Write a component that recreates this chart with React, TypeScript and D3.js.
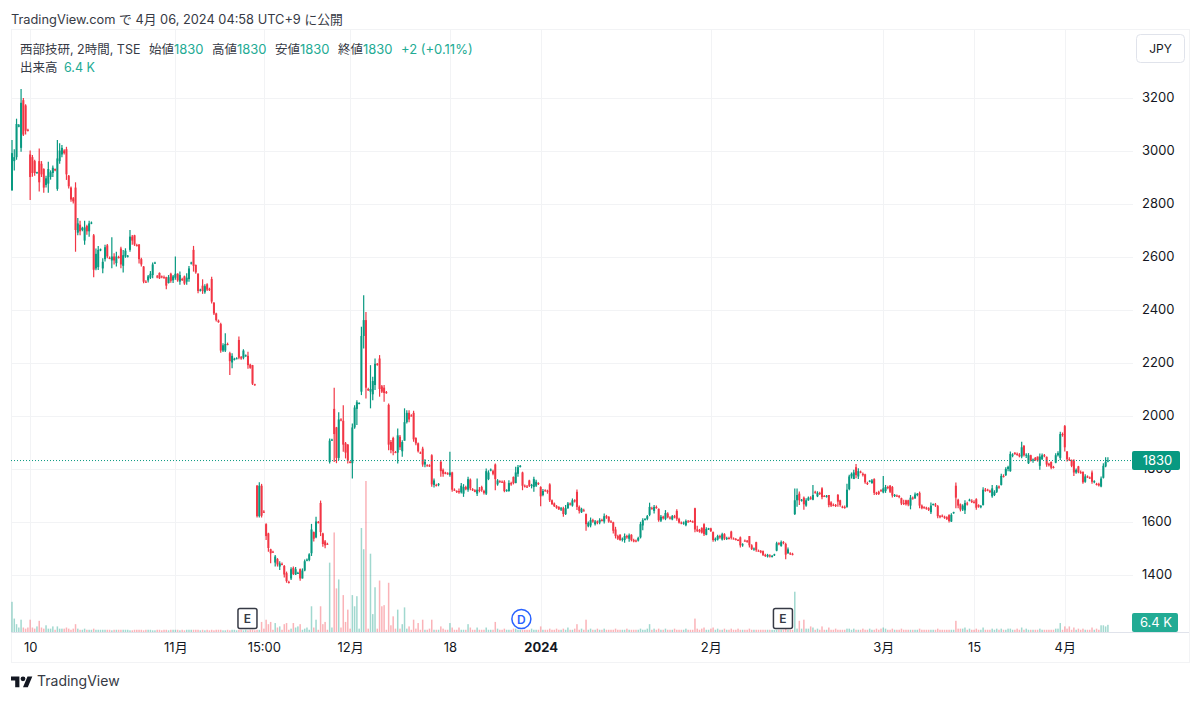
import { useEffect, useRef } from "react";
import * as d3 from "d3";

type Bar = [number, number, number, number]; // open, high, low, close

const octBars: Bar[] = [
  [2850,3040,2848,2990],[2960,3005,2925,2975],[2975,3120,2965,3100],[3090,3100,3088,3095],[3010,3232,2995,3180],
  [3190,3198,3055,3060],[3170,3175,3060,3075],[3078,3082,3072,3076],[2985,3000,2813,2900],[2975,2983,2901,2915],
  [2960,2965,2905,2915],[2916,2920,2912,2918],[2960,3008,2845,2880],[2950,2960,2900,2910],[2930,2933,2841,2860],
  [2870,2905,2860,2895],[2875,2958,2841,2930],[2900,2925,2890,2918],[2915,2943,2900,2935],[2930,2932,2922,2925],
  [2855,3040,2848,2970],[2960,3027,2950,3000],[2985,3021,2975,3010],[3000,3005,2985,2990],[3005,3014,2889,2910],
  [2905,2908,2857,2865],[2860,2864,2807,2815],[2820,2825,2800,2808],[2860,2880,2618,2700],[2690,2745,2680,2725],
  [2720,2735,2680,2695],[2700,2712,2695,2708],[2660,2735,2644,2710],[2715,2720,2682,2695],[2695,2735,2675,2725],
  [2725,2732,2722,2728],[2680,2685,2522,2550],[2555,2630,2548,2610],[2560,2640,2549,2625],[2625,2630,2620,2627],
  [2555,2593,2537,2580],[2590,2644,2581,2635],[2642,2647,2593,2600],[2595,2600,2590,2592],[2585,2673,2556,2600],
  [2600,2612,2570,2585],[2575,2618,2562,2600],[2598,2603,2592,2595],[2630,2637,2556,2570],[2565,2625,2540,2605],
  [2600,2631,2595,2622],[2600,2606,2596,2603],[2625,2700,2618,2675],[2675,2681,2644,2660],[2680,2682,2640,2645],
  [2643,2648,2638,2640],[2645,2647,2574,2590],[2590,2595,2562,2570],[2562,2564,2499,2505],[2505,2510,2500,2503],
  [2510,2530,2502,2525],[2520,2545,2515,2535],[2530,2577,2518,2570],[2575,2580,2572,2577],[2525,2530,2518,2522],
  [2538,2540,2515,2518],[2525,2528,2518,2522],[2522,2528,2516,2520],[2522,2524,2476,2490],[2500,2530,2498,2522],
  [2535,2539,2501,2508],[2510,2530,2500,2525],
];

const novBars: Bar[] = [
  [2520,2600,2512,2535],[2535,2537,2505,2510],[2505,2543,2493,2530],[2515,2520,2508,2512],[2525,2528,2493,2498],
  [2505,2537,2493,2520],[2515,2564,2505,2555],[2575,2580,2570,2577],[2625,2640,2543,2565],[2568,2570,2535,2540],
  [2535,2537,2461,2470],[2472,2478,2468,2475],[2490,2514,2459,2470],[2465,2495,2459,2488],[2495,2499,2470,2475],
  [2478,2482,2470,2476],[2515,2524,2423,2430],[2425,2428,2379,2385],[2385,2388,2355,2360],[2358,2362,2350,2352],
  [2345,2350,2237,2245],[2245,2273,2240,2265],[2245,2310,2240,2270],[2270,2275,2265,2268],[2235,2241,2153,2205],
  [2200,2235,2178,2225],[2212,2218,2208,2214],[2215,2220,2212,2216],[2285,2298,2212,2218],[2220,2225,2210,2215],
  [2218,2250,2212,2245],[2225,2230,2222,2227],[2225,2241,2176,2190],[2192,2195,2176,2180],[2190,2191,2115,2120],
  [2118,2120,2112,2114],[1735,1738,1615,1620],[1620,1748,1615,1735],[1735,1742,1615,1622],[1637,1642,1632,1635],
  [1590,1593,1530,1545],[1555,1558,1486,1500],[1495,1497,1442,1480],[1486,1490,1482,1484],[1445,1474,1430,1468],
  [1458,1462,1430,1438],[1430,1450,1417,1442],[1440,1445,1435,1438],[1432,1436,1389,1400],[1405,1411,1369,1375],
  [1372,1376,1366,1370],[1385,1427,1379,1420],[1425,1430,1398,1402],[1400,1428,1398,1420],[1405,1410,1402,1406],
  [1420,1423,1376,1385],[1385,1423,1385,1415],[1415,1457,1412,1450],[1455,1460,1450,1456],[1455,1480,1450,1476],
  [1480,1591,1470,1570],[1560,1562,1525,1535],[1540,1618,1537,1600],[1598,1602,1592,1596],[1670,1679,1545,1560],
  [1555,1558,1505,1515],[1525,1530,1499,1510],[1516,1520,1512,1514],[1825,1913,1819,1905],[1908,1912,1904,1909],
  [2025,2105,1825,1930],[1955,1957,1820,1840],[1840,2012,1832,1985],[1985,1990,1978,1983],[1980,2039,1863,1890],
  [1895,1900,1838,1860],[1890,1892,1819,1830],[1825,1828,1820,1823],
];

const decBars: Bar[] = [
  [1820,1970,1762,1955],[1955,2039,1950,2030],[2025,2058,1964,2050],[2045,2050,2042,2047],[2090,2335,2077,2300],
  [2300,2454,2253,2360],[2360,2391,2064,2105],[2100,2105,2092,2095],[2090,2190,2027,2100],[2080,2146,2058,2130],
  [2115,2215,2096,2195],[2195,2198,2188,2192],[2215,2228,2071,2100],[2110,2115,2085,2090],[2105,2115,2052,2085],
  [2088,2092,2082,2086],[2040,2045,1869,1890],[1900,1908,1858,1870],[1915,1920,1850,1865],[1862,1866,1858,1860],
  [1860,1951,1819,1925],[1920,1926,1870,1880],[1865,1907,1844,1900],[1905,2027,1905,1975],[1975,2020,1970,2010],
  [2010,2020,1975,1985],[2000,2005,1996,1998],[2010,2018,1901,1910],[1915,1918,1888,1895],[1895,1898,1860,1865],
  [1860,1864,1855,1858],[1875,1882,1807,1815],[1815,1835,1805,1825],[1812,1816,1808,1810],[1812,1816,1806,1810],
  [1850,1854,1731,1740],[1738,1762,1728,1755],[1738,1742,1732,1735],[1740,1745,1733,1742],[1825,1832,1769,1790],
  [1795,1800,1769,1780],[1785,1788,1778,1780],[1782,1786,1776,1780],[1775,1863,1769,1785],[1785,1788,1712,1720],
  [1720,1725,1715,1718],[1715,1718,1708,1712],[1715,1725,1705,1710],[1710,1745,1706,1735],[1705,1741,1693,1730],
  [1730,1735,1718,1722],[1720,1769,1712,1760],[1758,1762,1718,1725],[1722,1726,1715,1718],[1718,1722,1710,1712],
  [1705,1762,1696,1720],[1720,1730,1710,1715],[1730,1735,1712,1718],[1715,1720,1702,1708],[1705,1800,1700,1790],
  [1760,1793,1756,1785],[1795,1800,1790,1796],[1790,1795,1775,1780],[1815,1819,1718,1760],[1740,1760,1735,1755],
  [1752,1756,1746,1750],[1750,1755,1745,1748],[1750,1756,1710,1715],[1715,1722,1712,1718],[1715,1756,1712,1745],
  [1745,1750,1735,1740],[1768,1770,1740,1745],[1745,1807,1744,1785],[1780,1813,1769,1805],[1808,1813,1804,1810],
  [1785,1788,1718,1735],[1735,1740,1728,1732],[1732,1738,1726,1730],[1755,1758,1730,1735],[1735,1742,1725,1738],
  [1730,1769,1712,1760],[1735,1758,1730,1750],[1745,1748,1738,1741],[1730,1733,1658,1695],
];

const janBars: Bar[] = [
  [1700,1723,1695,1715],[1718,1722,1712,1716],[1716,1720,1705,1712],[1740,1744,1674,1680],[1680,1683,1662,1666],
  [1668,1672,1655,1658],[1658,1662,1648,1652],[1655,1658,1643,1646],[1645,1655,1640,1650],[1650,1656,1618,1628],
  [1628,1662,1625,1650],[1650,1674,1648,1668],[1668,1672,1660,1664],[1660,1687,1656,1680],[1680,1684,1672,1676],
  [1712,1721,1643,1655],[1655,1660,1630,1640],[1635,1652,1632,1648],[1642,1648,1638,1640],[1628,1630,1565,1590],
  [1582,1600,1578,1595],[1585,1615,1578,1605],[1605,1610,1595,1600],[1590,1606,1585,1600],[1600,1604,1590,1595],
  [1596,1612,1590,1606],[1606,1610,1600,1604],[1600,1630,1592,1620],[1620,1625,1610,1615],[1618,1620,1595,1600],
  [1600,1605,1595,1598],[1597,1599,1555,1565],[1570,1580,1536,1545],[1545,1550,1530,1535],[1550,1552,1527,1530],
  [1532,1540,1525,1535],[1530,1555,1520,1545],[1545,1550,1535,1540],[1535,1555,1524,1548],[1550,1552,1525,1530],
  [1530,1535,1522,1525],[1528,1532,1522,1526],[1528,1542,1525,1538],[1540,1599,1536,1590],[1585,1612,1567,1605],
  [1608,1612,1604,1610],[1610,1625,1605,1620],[1625,1671,1620,1655],[1650,1656,1645,1648],[1640,1662,1630,1655],
  [1655,1660,1648,1652],[1648,1649,1599,1605],[1603,1625,1598,1618],[1618,1622,1608,1612],[1610,1643,1605,1632],
  [1630,1635,1612,1616],[1615,1620,1608,1612],[1608,1625,1605,1620],[1620,1625,1612,1615],[1640,1646,1603,1610],
  [1610,1614,1592,1596],[1596,1600,1590,1594],[1594,1600,1588,1596],[1586,1608,1582,1602],[1600,1606,1596,1598],
  [1602,1606,1598,1600],[1600,1604,1595,1598],[1650,1652,1559,1570],[1570,1584,1560,1565],[1568,1572,1558,1562],
  [1575,1578,1555,1558],[1590,1593,1545,1552],[1550,1578,1548,1572],[1572,1576,1568,1574],[1574,1576,1560,1564],
];

const febBars: Bar[] = [
  [1560,1562,1524,1530],[1530,1540,1525,1535],[1532,1550,1528,1545],[1545,1550,1535,1540],[1532,1558,1528,1552],
  [1552,1556,1530,1536],[1536,1542,1530,1538],[1538,1542,1532,1534],[1562,1565,1532,1538],[1536,1540,1532,1534],
  [1534,1538,1528,1532],[1530,1534,1526,1528],[1540,1543,1502,1510],[1510,1518,1505,1514],[1528,1532,1524,1527],
  [1527,1530,1520,1524],[1545,1545,1502,1510],[1510,1514,1492,1496],[1496,1502,1490,1498],[1522,1524,1486,1492],
  [1490,1494,1486,1488],[1488,1492,1480,1484],[1488,1491,1470,1474],[1474,1478,1466,1470],[1468,1478,1464,1474],
  [1472,1476,1464,1468],[1468,1474,1464,1470],[1474,1478,1470,1476],[1490,1524,1488,1518],[1518,1522,1510,1514],
  [1508,1528,1505,1522],[1522,1526,1514,1518],[1515,1520,1458,1475],[1480,1502,1478,1495],[1480,1484,1474,1478],
  [1478,1482,1472,1476],[1628,1725,1625,1680],[1680,1725,1656,1700],[1705,1713,1662,1680],[1680,1685,1675,1682],
  [1690,1694,1644,1665],[1660,1688,1656,1680],[1680,1694,1678,1690],[1690,1695,1682,1686],[1682,1738,1680,1700],
  [1712,1716,1705,1710],[1695,1714,1692,1708],[1708,1712,1700,1704],[1725,1729,1684,1692],[1696,1700,1692,1695],
  [1695,1700,1690,1697],[1700,1700,1654,1662],[1672,1676,1655,1660],[1663,1668,1658,1662],[1662,1666,1655,1660],
  [1700,1704,1656,1675],[1680,1682,1656,1662],[1656,1660,1650,1654],[1655,1660,1648,1652],[1655,1742,1652,1720],
  [1722,1776,1718,1770],[1770,1785,1762,1780],[1760,1795,1760,1785],[1805,1817,1763,1775],[1770,1801,1760,1790],
  [1788,1792,1782,1785],[1780,1785,1770,1775],[1778,1780,1742,1748],[1745,1750,1738,1742],[1752,1756,1748,1754],
  [1745,1760,1742,1755],[1760,1763,1700,1708],[1708,1712,1700,1704],[1712,1716,1700,1704],[1718,1722,1712,1716],
  [1710,1772,1707,1725],
];

const marBars: Bar[] = [
  [1715,1738,1708,1730],[1730,1735,1722,1726],[1735,1738,1708,1712],[1730,1734,1691,1698],[1698,1704,1692,1700],
  [1698,1702,1692,1696],[1696,1700,1688,1692],[1688,1690,1662,1668],[1670,1682,1662,1666],[1680,1682,1660,1665],
  [1680,1682,1658,1664],[1660,1700,1646,1690],[1690,1694,1682,1688],[1688,1709,1685,1702],[1700,1708,1695,1704],
  [1708,1713,1650,1660],[1660,1664,1646,1650],[1654,1658,1648,1652],[1652,1656,1644,1650],[1650,1654,1640,1644],
  [1635,1672,1628,1660],[1664,1668,1660,1666],[1664,1670,1655,1660],[1658,1662,1612,1620],[1620,1625,1612,1618],
  [1622,1626,1616,1620],[1618,1622,1610,1614],[1616,1620,1606,1610],[1624,1627,1596,1602],[1600,1631,1598,1625],
  [1633,1637,1629,1635],[1735,1747,1650,1690],[1682,1686,1650,1660],[1665,1668,1638,1645],[1645,1665,1640,1660],
  [1642,1680,1628,1670],[1668,1675,1660,1665],[1680,1686,1676,1682],[1678,1684,1670,1674],[1674,1680,1668,1672],
  [1684,1688,1644,1652],[1662,1665,1652,1656],[1656,1662,1650,1658],[1662,1729,1660,1720],[1720,1726,1712,1716],
  [1720,1724,1714,1718],[1716,1720,1708,1712],[1695,1738,1690,1725],[1700,1718,1696,1712],[1712,1738,1708,1732],
  [1732,1736,1724,1728],[1738,1780,1736,1772],[1772,1778,1766,1770],[1775,1805,1772,1798],[1798,1810,1790,1806],
  [1790,1864,1788,1855],[1850,1858,1842,1852],[1858,1862,1852,1856],[1855,1860,1848,1852],[1852,1858,1842,1846],
  [1845,1901,1839,1880],[1885,1889,1845,1850],[1850,1858,1840,1852],[1820,1858,1817,1850],[1850,1852,1826,1830],
  [1830,1838,1822,1834],[1840,1843,1828,1832],[1845,1845,1826,1830],[1810,1857,1795,1845],[1835,1857,1832,1850],
  [1850,1855,1842,1846],[1844,1845,1807,1815],[1818,1822,1808,1812],[1825,1826,1797,1803],[1806,1810,1800,1804],
  [1822,1858,1820,1850],[1850,1865,1845,1858],[1840,1939,1832,1930],[1930,1936,1920,1926],
];

const aprBars: Bar[] = [
  [1960,1964,1864,1880],[1864,1866,1826,1835],[1835,1842,1828,1832],[1832,1834,1805,1810],[1830,1835,1772,1785],
  [1785,1800,1780,1795],[1808,1810,1782,1786],[1786,1792,1780,1784],[1788,1788,1742,1748],[1750,1778,1746,1770],
  [1770,1774,1764,1768],[1766,1770,1760,1764],[1785,1792,1742,1750],[1750,1756,1744,1752],[1742,1746,1736,1740],
  [1742,1746,1732,1736],[1732,1770,1729,1762],[1765,1820,1762,1810],[1808,1842,1805,1825],[1828,1842,1824,1830],
];

// 出来高 (K)
const octVolume = [
  27,12,7,4,11,4,3,4,11,4, 3,5,10,4,3,6,3,3,5,2, 5,3,3,3,4,3,2,3,7,3,
  2,2,3,2,2,2,3,2,2,2, 2,2,2,2,1.5,2,2,2,2,2, 2,2,1.5,1.5,2,2,2,2,1.5,2,
  2,2,1.5,1.5,2,2,1.5,2,2,1.5, 2,2,
];
const novVolume = [
  2,2,1.5,2,1.5,2,2,2,2,2, 2,1.5,2,1.5,2,1.5,2,1.5,2,2, 2,1.5,1.5,2,1.5,2,2,1.5,2,2, 1.5,2,1.5,2,2,1.5,
  2,2,9,3,11,7,9,2,8,4, 5,2,7,8,2,3,8,4,5,7, 2,3,4,2,23,4,11,2,23,7, 9,2,62,4,89,39,47,4,33,9, 20,3,
];
const decVolume = [
  33,23,32,3,93,74,135,3,70,16, 40,3,46,23,24,2,44,6,14,3, 20,3,7,22,3,5,2,11,3,8,
  2,11,2,2,3,11,2,2,2,5, 3,2,2,8,4,2,2,4,2,2, 2,7,4,2,2,4,2,2,2,4,
  2,2,2,9,3,2,2,3,2,2, 2,3,3,2,2,2,2,2,2,3, 2,2,2,5,
];
const janVolume = [
  2,2,2,3,2,2,3,2,2,3, 2,4,2,2,3,7,2,3,2,11, 2,3,2,2,3,2,2,3,2,2, 2,2,3,2,2,2,2,3,2,2,
  2,2,2,3,2,2,3,7,2,3, 2,3,2,2,3,2,2,2,3,2, 2,2,2,3,2,2,2,12,3,2, 3,4,2,2,3,
];
const febVolume = [
  4,2,3,2,2,3,2,2,3,2, 2,3,2,2,2,2,3,2,2,2, 2,2,2,2,2,2,2,2,2,2, 2,2,3,2,2,2,36,3,10,3,
  11,3,3,5,4,2,3,2,5,2, 2,4,2,2,3,2,2,2,2,3, 3,2,3,2,2,2,3,2,2,3, 2,2,3,2,3,4,
];
const marVolume = [
  3,2,2,3,2,2,2,3,2,2, 2,2,2,2,2,3,2,2,2,2, 2,2,2,3,2,2,2,2,2,2, 2,10,3,3,3,4,2,3,2,2,
  3,2,2,4,2,2,2,3,2,3, 2,3,2,2,3,3,2,2,3,2, 4,2,3,2,2,2,2,2,3,2, 2,2,2,2,2,3,3,8,2,
];
const aprVolume = [5,3,5,2,4,2,3,2,3,2, 2,2,4,2,3,2,6,6,5,6.4];

const priceTicks = [3200, 3000, 2800, 2600, 2400, 2200, 2000, 1800, 1600, 1400];
const timeTickBars = [8, 72, 111, 149, 193, 233, 308, 384, 424, 464];
const timeTickLabels = ["10", "11月", "15:00", "12月", "18", "2024", "2月", "3月", "15", "4月"];
const earningsBars = [104, 340];
const dividendBars = [224.5];

const lastPrice = 1830;
const lastVolumeLabel = "6.4 K";

const UP = "#089981";
const DOWN = "#f23645";
const TEXT = "#131722";
const GRID = "#f2f3f5";
const FONT = "Inter, 'Noto Sans CJK JP', sans-serif";

const W = 1200;
const H = 701;
const paneLeft = 11;
const paneRight = 1133;
const paneBottom = 632;

export default function App() {
  const svgRef = useRef<SVGSVGElement>(null);

  useEffect(() => {
    if (!svgRef.current) return;
    const svg = d3.select(svgRef.current);
    svg.selectAll("*").remove();

    const bars = [...octBars, ...novBars, ...decBars, ...janBars, ...febBars, ...marBars, ...aprBars];
    const volumes = [...octVolume, ...novVolume, ...decVolume, ...janVolume, ...febVolume, ...marVolume, ...aprVolume];

    const x = d3.scaleLinear().domain([0, 483]).range([12, 1107.9]);
    const y = d3.scaleLinear().domain([1400, 3200]).range([574.5, 97.5]);
    const yVol = d3.scaleLinear().domain([0, 135]).range([paneBottom, 481]);

    svg.append("rect").attr("width", W).attr("height", H).attr("fill", "#fff");

    // 枠
    svg
      .append("rect")
      .attr("x", paneLeft + 0.5)
      .attr("y", 29.5)
      .attr("width", 1178)
      .attr("height", 633)
      .attr("fill", "none")
      .attr("stroke", GRID);

    // グリッド
    svg
      .append("g")
      .selectAll("line")
      .data(priceTicks)
      .join("line")
      .attr("x1", paneLeft)
      .attr("x2", paneRight)
      .attr("y1", (d) => Math.round(y(d)) + 0.5)
      .attr("y2", (d) => Math.round(y(d)) + 0.5)
      .attr("stroke", GRID);
    svg
      .append("g")
      .selectAll("line")
      .data(timeTickBars)
      .join("line")
      .attr("x1", (d) => Math.round(x(d)) + 0.5)
      .attr("x2", (d) => Math.round(x(d)) + 0.5)
      .attr("y1", 30)
      .attr("y2", paneBottom)
      .attr("stroke", GRID);

    // 出来高
    svg
      .append("g")
      .selectAll("rect")
      .data(bars)
      .join("rect")
      .attr("x", (_, i) => x(i) - 0.75)
      .attr("y", (_, i) => yVol(volumes[i]))
      .attr("width", 1.5)
      .attr("height", (_, i) => paneBottom - yVol(volumes[i]))
      .attr("fill", (d) => (d[3] >= d[0] ? UP : DOWN))
      .attr("opacity", 0.38);

    // ローソク足
    const candles = svg.append("g");
    candles
      .selectAll("line")
      .data(bars)
      .join("line")
      .attr("x1", (_, i) => x(i))
      .attr("x2", (_, i) => x(i))
      .attr("y1", (d) => y(d[1]))
      .attr("y2", (d) => y(d[2]))
      .attr("stroke", (d) => (d[3] >= d[0] ? UP : DOWN))
      .attr("stroke-width", 1.2);
    candles
      .selectAll("rect")
      .data(bars)
      .join("rect")
      .attr("x", (_, i) => x(i) - 1)
      .attr("y", (d) => y(Math.max(d[0], d[3])))
      .attr("width", 2)
      .attr("height", (d) => Math.max(1, Math.abs(y(d[0]) - y(d[3]))))
      .attr("fill", (d) => (d[3] >= d[0] ? UP : DOWN));

    // 現在値ライン
    svg
      .append("line")
      .attr("x1", paneLeft)
      .attr("x2", paneRight)
      .attr("y1", y(lastPrice))
      .attr("y2", y(lastPrice))
      .attr("stroke", UP)
      .attr("stroke-width", 1)
      .attr("stroke-dasharray", "1 2");

    // 軸
    svg
      .append("line")
      .attr("x1", paneLeft)
      .attr("x2", 1189)
      .attr("y1", paneBottom + 0.5)
      .attr("y2", paneBottom + 0.5)
      .attr("stroke", "#e0e3eb");

    const priceAxis = svg
      .append("g")
      .attr("transform", "translate(1142,0)")
      .call(d3.axisRight(y).tickValues(priceTicks).tickFormat(d3.format("d")).tickSize(0).tickPadding(0));
    priceAxis.select(".domain").remove();
    priceAxis.selectAll("text").attr("fill", TEXT).attr("font-size", 13).attr("font-family", FONT);

    const timeAxis = svg
      .append("g")
      .attr("transform", `translate(0,${paneBottom})`)
      .call(
        d3
          .axisBottom(x)
          .tickValues(timeTickBars)
          .tickFormat((_, i) => timeTickLabels[i])
          .tickSize(0)
          .tickPadding(11)
      );
    timeAxis.select(".domain").remove();
    timeAxis
      .selectAll("text")
      .attr("fill", TEXT)
      .attr("font-size", 13)
      .attr("font-family", FONT)
      .attr("font-weight", (_, i) => (timeTickLabels[i] === "2024" ? 700 : 400));

    // 価格タグ
    const tag = (yTop: number, w: number, h: number, fill: string, text: string, cx: number) => {
      svg.append("rect").attr("x", 1132).attr("y", yTop).attr("width", w).attr("height", h).attr("rx", 2).attr("fill", fill);
      svg
        .append("text")
        .attr("x", cx)
        .attr("y", yTop + h / 2 + 4.5)
        .attr("text-anchor", "middle")
        .attr("font-size", 13)
        .attr("font-family", FONT)
        .attr("fill", "#fff")
        .text(text);
    };
    tag(451, 48, 19, UP, String(lastPrice), 1157.5);
    tag(613, 46, 19, "#22ab94", lastVolumeLabel, 1156);

    // イベント
    const markers = svg.append("g").attr("font-family", FONT).attr("font-size", 12).attr("font-weight", 600);
    earningsBars.forEach((b) => {
      const cx = x(b) - 0.5;
      markers
        .append("rect")
        .attr("x", cx - 9.5)
        .attr("y", 608.5)
        .attr("width", 19)
        .attr("height", 20)
        .attr("rx", 2)
        .attr("fill", "#fff")
        .attr("stroke", "#363a45")
        .attr("stroke-width", 1.5);
      markers.append("text").attr("x", cx).attr("y", 623).attr("text-anchor", "middle").attr("fill", "#363a45").text("E");
    });
    dividendBars.forEach((b) => {
      const cx = x(b);
      markers.append("circle").attr("cx", cx).attr("cy", 619).attr("r", 9.5).attr("fill", "#fff").attr("stroke", "#2962ff").attr("stroke-width", 1.5);
      markers.append("text").attr("x", cx).attr("y", 623.5).attr("text-anchor", "middle").attr("fill", "#2962ff").text("D");
    });

    // テキスト
    const label = (tx: number, ty: number, s: string, fill = TEXT, size = 13) =>
      svg.append("text").attr("x", tx).attr("y", ty).attr("font-size", size).attr("font-family", FONT).attr("fill", fill).text(s);

    label(11, 24, "TradingView.com で 4月 06, 2024 04:58 UTC+9 に公開", "#363a45", 12.8);
    label(20, 53.5, "西部技研, 2時間, TSE", "#363a45", 12.5);
    [["始値", 149], ["高値", 212], ["安値", 275], ["終値", 338]].forEach(([t, px]) => {
      label(px as number, 53.5, t as string, "#363a45", 12.5);
      label((px as number) + 25, 53.5, String(lastPrice), "#22ab94", 13);
    });
    label(401, 53.5, "+2 (+0.11%)", "#22ab94", 13);
    label(20, 72, "出来高", "#363a45", 12.5);
    label(64, 72, lastVolumeLabel, "#22ab94", 12.5);

    // JPY ボタン
    svg.append("rect").attr("x", 1136.5).attr("y", 34.5).attr("width", 48).attr("height", 28).attr("rx", 4).attr("fill", "#fff").attr("stroke", "#e0e3eb");
    label(1160.5, 52.5, "JPY", TEXT, 12).attr("text-anchor", "middle");

    // ロゴ
    const logo = svg.append("g").attr("transform", "translate(11,674) scale(0.6)").attr("fill", TEXT);
    logo.append("path").attr("d", "M14 22H7V11H0V4h14v18zM28 22h-8l7.5-18h8L28 22z");
    logo.append("circle").attr("cx", 20).attr("cy", 8).attr("r", 4);
    label(37, 686, "TradingView", "#363a45", 14);
  }, []);

  return (
    <svg
      ref={svgRef}
      width={W}
      height={H}
      style={{ position: "absolute", left: 0, top: 0 }}
    />
  );
}
